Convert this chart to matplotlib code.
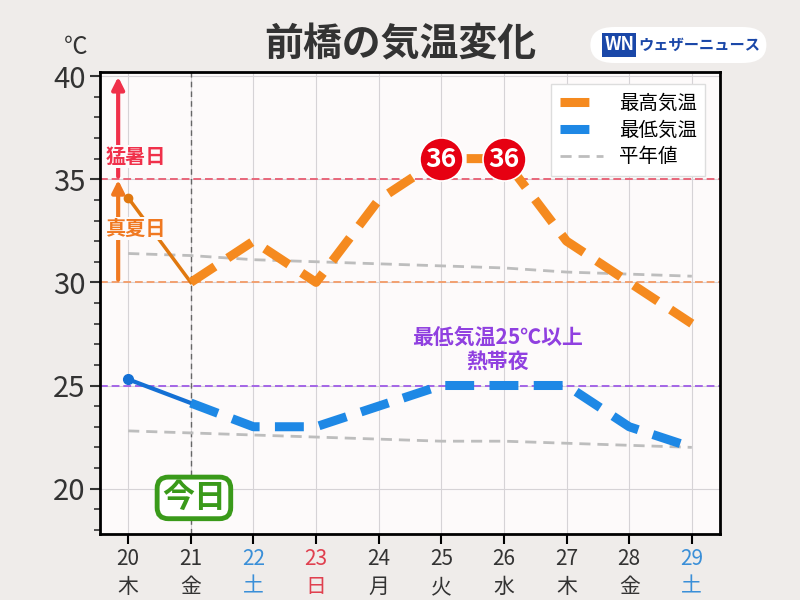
import matplotlib.pyplot as plt
from matplotlib.patches import FancyBboxPatch
from matplotlib.lines import Line2D
import numpy as np

plt.rcParams['font.family'] = ['Noto Sans CJK JP', 'DejaVu Sans']

# ---- data ----
days = [20, 21, 22, 23, 24, 25, 26, 27, 28, 29]
weekdays = ['木', '金', '土', '日', '月', '火', '水', '木', '金', '土']
day_colors = ['#333333', '#333333', '#3a8fd8', '#e0404f', '#333333',
              '#333333', '#333333', '#333333', '#333333', '#3a8fd8']
t_max = [34.1, 30, 32, 30, 34, 36, 36, 32, 30, 28]
t_min = [25.3, 24.15, 23, 23, 24, 25, 25, 25, 23, 22]
normal_max = [31.4, 31.3, 31.1, 31.0, 30.9, 30.8, 30.7, 30.5, 30.4, 30.3]
normal_min = [22.8, 22.7, 22.6, 22.5, 22.4, 22.3, 22.3, 22.2, 22.1, 22.0]
today = 21
peak_days = [25, 26]
peak_vals = [36, 36]

c_max = '#f58a1f'
c_max_obs = '#e0780f'
c_min = '#1e88e5'
c_min_obs = '#1470d4'
c_norm = '#bdbdbd'

fig = plt.figure(figsize=(8, 6), dpi=100, facecolor='#efecea')
ax = fig.add_axes([0.125, 0.11, 0.775, 0.77])
ax.set_facecolor('#fdfafa')

ax.set_xlim(19.55, 29.45)
ax.set_ylim(17.8, 40.2)

# grid
ax.set_xticks(days)
ax.set_yticks([20, 25, 30, 35, 40])
ax.set_yticks(np.arange(18, 41, 1), minor=True)
ax.grid(True, which='major', color='#d6d3d6', linewidth=0.8)
ax.set_axisbelow(True)

# threshold lines
ax.axhline(35, color='#e8677a', linestyle=(0, (4, 2)), linewidth=1.4, zorder=2)
ax.axhline(30, color='#f2a070', linestyle=(0, (4, 2)), linewidth=1.4, zorder=2)
ax.axhline(25, color='#a466e6', linestyle=(0, (4, 2)), linewidth=1.4, zorder=2)
ax.axvline(today, color='#666666', linestyle=(0, (4, 3)), linewidth=1.0, zorder=2)

# normals
ax.plot(days, normal_max, color=c_norm, linestyle=(0, (4, 2.5)), linewidth=2, zorder=3)
ax.plot(days, normal_min, color=c_norm, linestyle=(0, (4, 2.5)), linewidth=2, zorder=3)

# observed (solid) part
ax.plot(days[:2], t_max[:2], color=c_max_obs, linewidth=2.5, zorder=4)
ax.plot(days[:1], t_max[:1], 'o', color=c_max_obs, markersize=6, zorder=4)
ax.plot(days[:2], t_min[:2], color=c_min_obs, linewidth=3, zorder=4)
ax.plot(days[:1], t_min[:1], 'o', color=c_min_obs, markersize=7, zorder=4)

# forecast (dashed) part
ax.plot(days[1:], t_max[1:], color=c_max, linestyle=(0, (3.2, 1.7)), linewidth=6.5, zorder=5)
ax.plot(days[1:], t_min[1:], color=c_min, linestyle=(0, (3.2, 1.7)), linewidth=6.5, zorder=5)

# peak markers
for d, v in zip(peak_days, peak_vals):
    ax.plot(d, v, 'o', markersize=31, color='#e60012', markeredgecolor='white',
            markeredgewidth=1.2, zorder=6)
    ax.text(d, v - 0.05, f'{v}', color='white', fontsize=19, fontweight='bold',
            ha='center', va='center', zorder=7)

# arrows on the left
ax.annotate('', xy=(19.84, 40.1), xytext=(19.84, 35),
            arrowprops=dict(arrowstyle='-|>', color='#f0304a', lw=3, mutation_scale=18), zorder=5)
ax.annotate('', xy=(19.84, 35.1), xytext=(19.84, 30),
            arrowprops=dict(arrowstyle='-|>', color='#f07820', lw=3, mutation_scale=18), zorder=5)
ax.text(20.12, 36.1, '猛暑日', color='#f0304a', fontsize=14.5, fontweight='bold',
        ha='center', va='center', zorder=6,
        bbox=dict(boxstyle='square,pad=0.05', fc='#fdfafa', ec='none'))
ax.text(20.12, 32.6, '真夏日', color='#f07820', fontsize=14.5, fontweight='bold',
        ha='center', va='center', zorder=6,
        bbox=dict(boxstyle='square,pad=0.05', fc='#fdfafa', ec='none'))

# tropical night note
ax.text(25.9, 27.35, '最低気温25℃以上', color='#9040e0', fontsize=15, fontweight='bold',
        ha='center', va='center', zorder=6)
ax.text(25.9, 26.2, '熱帯夜', color='#9040e0', fontsize=15, fontweight='bold',
        ha='center', va='center', zorder=6)

# today label
ax.text(21.05, 19.55, '今日', color='#3a9a1a', fontsize=23, fontweight='bold',
        ha='center', va='center', zorder=7,
        bbox=dict(boxstyle='round,pad=0.15,rounding_size=0.35', fc='white', ec='#3a9a1a', lw=3.5))

# ticks
ax.set_xticklabels([f'{d}\n{w}' for d, w in zip(days, weekdays)], fontsize=15, linespacing=1.35)
for lbl, c in zip(ax.get_xticklabels(), day_colors):
    lbl.set_color(c)
ax.tick_params(axis='y', which='major', labelsize=21, length=7, width=1.5, colors='#333333', labelcolor='#333333')
ax.tick_params(axis='y', which='minor', length=4, width=1.2, colors='#333333')
ax.tick_params(axis='x', which='major', length=7, width=1.5, pad=3)
for s in ax.spines.values():
    s.set_color('black')
    s.set_linewidth(2)

fig.text(0.095, 0.92, '℃', fontsize=17, color='#333333', ha='center', va='center')
fig.text(0.5, 0.925, '前橋の気温変化', fontsize=28, fontweight='bold', color='#333333',
         ha='center', va='center')

# logo
logo = FancyBboxPatch((0.738, 0.895), 0.22, 0.06, boxstyle='round,pad=0,rounding_size=0.03',
                      transform=fig.transFigure, fc='white', ec='none')
fig.patches.append(logo)
fig.text(0.774, 0.925, 'WN', fontsize=13, fontweight='bold', color='white', style='italic',
         ha='center', va='center',
         bbox=dict(boxstyle='square,pad=0.12', fc='#1a47a8', ec='none'))
fig.text(0.874, 0.925, 'ウェザーニュース', fontsize=11, fontweight='bold', color='#1a47a8',
         ha='center', va='center')

# legend
handles = [Line2D([], [], color=c_max, linestyle=(0, (3.2, 1.7)), linewidth=6.5),
           Line2D([], [], color=c_min, linestyle=(0, (3.2, 1.7)), linewidth=6.5),
           Line2D([], [], color=c_norm, linestyle=(0, (4, 2.5)), linewidth=2)]
leg = ax.legend(handles, ['最高気温', '最低気温', '平年値'], loc='upper right',
                fontsize=14, handlelength=2.2, framealpha=1, fancybox=False,
                edgecolor='#dddddd', borderpad=0.45, labelspacing=0.3,
                handletextpad=0.8, bbox_to_anchor=(0.992, 0.995))
leg.set_zorder(8)

fig.savefig('out.png', dpi=100, facecolor=fig.get_facecolor())
